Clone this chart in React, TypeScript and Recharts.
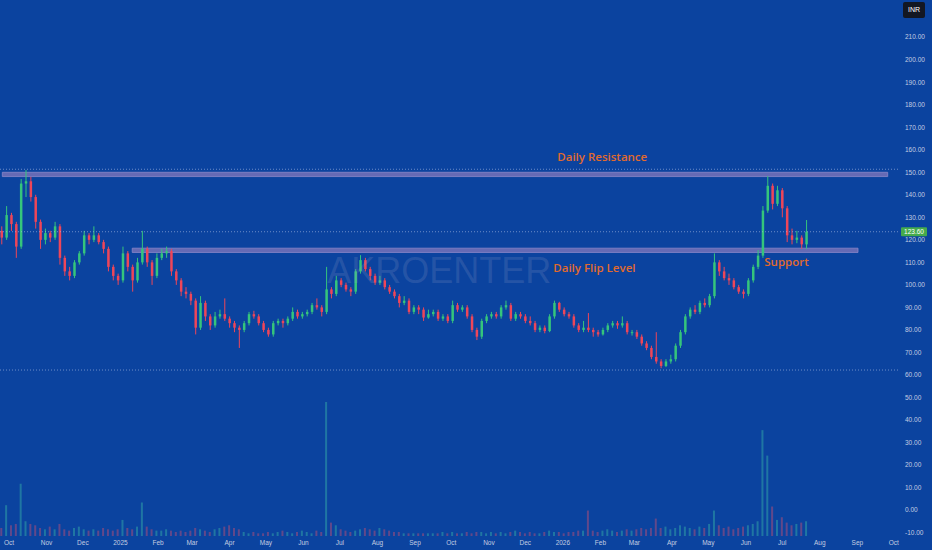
import React from 'react';
import { ComposedChart, Bar, XAxis, YAxis, ReferenceArea, ReferenceLine, ReferenceDot } from 'recharts';

// ---- candle data (one candle per 4 calendar days, day 0 = 1 Oct 2024) ----
const FIRST_DAY = -6;
const STEP_DAYS = 4;

const opens = [
  124, 121, 131, 127, 117, 145, 146, 139, 128, 120,
  123, 121, 126, 112, 106, 104, 110, 114, 122, 120,
  122, 119, 116, 108, 104, 102, 114, 108, 102, 110,
  116, 110, 104, 112, 114, 115, 106, 102, 97, 96,
  93, 81, 92, 86, 82, 86, 87, 85, 83, 81,
  80, 83, 87, 86, 83, 80, 78, 83, 84, 83,
  85, 88, 86, 87, 88, 91, 90, 88, 98, 96,
  102, 100, 98, 97, 106, 111, 107, 104, 101, 102,
  99, 97, 95, 92, 93, 88, 90, 89, 85.5, 87,
  88, 85, 86, 84, 91, 89, 90, 86, 80, 77,
  84, 86, 87, 86, 90, 91, 85, 87, 86, 84,
  83, 80, 81, 79.5, 86, 92, 89, 87, 86, 82,
  80, 81, 80, 79, 78, 80, 82, 83, 82, 83,
  79, 79, 77, 74, 72, 68, 66, 64, 66, 67,
  73, 79, 86, 89, 88, 92, 91, 95, 110, 106,
  103, 102, 99, 97, 96, 102, 108, 113, 133, 144,
  136, 142, 134, 122, 120, 121, 118,
];
const highs = [
  126, 135, 132, 128, 147, 151, 148, 140, 129, 125,
  124, 128, 127, 113, 108, 111, 115, 124, 123, 126,
  123, 120, 117, 109, 105, 117, 115, 109, 112, 124,
  117, 111, 114, 116, 117, 116, 107, 103, 99, 97,
  94, 95, 93, 87, 88, 89, 94, 86, 84, 82,
  84, 88, 88.5, 87, 84, 81, 84, 85, 85, 86,
  90, 89, 88, 89, 92, 94, 91, 108, 99, 104,
  103, 101, 99, 107, 113.2, 112, 108, 105, 104, 103,
  100, 98, 96, 95, 94, 91, 91, 90, 89, 89,
  89, 87, 87, 93, 92, 91, 91, 87, 81, 85,
  87, 88, 88, 91, 93, 92, 88, 88, 87, 86,
  84, 82, 82, 87, 93, 92.5, 90, 88, 87, 83,
  84, 87.5, 81, 80, 81, 83, 84, 84, 86, 84,
  80, 80, 78, 75, 73, 79, 67, 67, 69, 74,
  80, 87, 90, 91, 93, 94, 96, 114, 111, 108,
  105, 103, 100, 98, 103, 109, 115.5, 135, 148.3, 145,
  144, 143, 135, 125, 124, 122, 128.8,
];
const lows = [
  118, 120, 124, 112, 116, 139, 137, 125, 116, 118,
  119, 120, 109, 104, 102, 103, 109, 113, 118, 119,
  118, 114, 106, 102, 100, 101, 106, 97, 101, 109,
  108, 100, 103, 111, 112, 104, 100, 95, 94, 91,
  78, 80, 84, 80, 81, 85, 84, 81, 79, 72,
  79, 82, 85, 82, 79, 77, 77, 82, 81, 82,
  84, 85, 85, 86, 87, 89, 86, 87, 94, 95,
  99, 97, 95, 96, 105, 106, 102, 100, 100, 98,
  96, 94, 90, 91, 87, 87, 87, 84, 85, 86,
  84, 84, 83, 83, 88, 88, 85, 79, 75.5, 76,
  83, 85, 85, 85, 89, 84, 84, 85, 83, 82,
  79, 79, 78.5, 79, 85, 88, 86, 85, 81, 79,
  79, 79, 77, 77, 77.5, 79, 81, 80.5, 81, 78,
  77.5, 76, 73, 71, 67, 65, 63, 63.5, 65, 66,
  72, 78, 85, 87, 87, 90, 90, 94, 104, 102,
  100, 98, 96, 94, 95, 101, 107, 112, 132, 133.5,
  135, 130, 119, 118, 118.5, 116, 116,
];
const closes = [
  121, 131, 127, 117, 145, 146, 139, 128, 120, 123,
  121, 126, 112, 106, 104, 110, 114, 122, 120, 122,
  119, 116, 108, 104, 102, 114, 108, 102, 110, 116,
  110, 104, 112, 114, 115, 106, 102, 97, 96, 93,
  81, 92, 86, 82, 86, 87, 85, 83, 81, 80,
  83, 87, 86, 83, 80, 78, 83, 84, 83, 85,
  88, 86, 87, 88, 91, 90, 88, 98, 96, 102,
  100, 98, 97, 106, 111, 107, 104, 101, 102, 99,
  97, 95, 92, 93, 88, 90, 89, 85.5, 87, 88,
  85, 86, 84, 91, 89, 90, 86, 80, 77, 84,
  86, 87, 86, 90, 91, 85, 87, 86, 84, 83,
  80, 81, 79.5, 86, 92, 89, 87, 86, 82, 80,
  81, 80, 79, 78, 80, 82, 83, 82, 83, 79,
  79, 77, 74, 72, 68, 66, 64, 66, 67, 73,
  79, 86, 89, 88, 92, 91, 95, 110, 106, 103,
  102, 99, 97, 96, 102, 108, 113, 133, 144, 136,
  142, 134, 122, 120, 121, 118, 123.6,
];
const volumes = [
  6, 23, 8, 9, 39, 11, 9, 8, 6, 5, 7, 5,
  9, 5, 4, 6, 7, 5, 4, 5, 4, 6, 5, 4, 5,
  12, 6, 5, 7, 25, 7, 5, 4, 4, 5, 4, 3, 4, 3, 4, 6,
  5, 4, 3, 5, 6, 7, 8, 6, 5, 3, 2, 3, 2, 2, 3, 2, 3, 4, 3, 2,
  3, 4, 3, 2, 4, 3,
  100,
  10, 8, 5, 4, 3, 4, 5, 6, 5, 4, 6, 5, 4,
  3, 3, 2, 2, 2, 2, 2, 2, 2, 2, 3, 2, 3, 2, 2, 3, 2, 3, 3, 2,
  3, 2, 3, 2, 3, 4, 3, 2, 3, 2, 2, 3, 4, 3, 3, 2, 3, 3, 4, 4,
  19,
  4, 3, 4, 5, 4, 3, 4, 5, 4, 5, 6, 5, 6,
  13,
  6, 7, 5, 6, 8, 7, 6, 5, 7, 6, 9,
  19,
  8, 6, 7, 5, 6, 7, 8, 9, 11,
  79, 60, 22, 12, 14, 10, 8, 9, 10, 11,
];

// ---- axes ----
const monthDays = [0, 31, 61, 92, 123, 151, 182, 212, 243, 273, 304, 335, 365, 396, 426, 457, 488, 516, 547, 577, 608, 638, 669, 700, 730];
const monthLabels = ['Oct', 'Nov', 'Dec', '2025', 'Feb', 'Mar', 'Apr', 'May', 'Jun', 'Jul', 'Aug', 'Sep', 'Oct', 'Nov', 'Dec', '2026', 'Feb', 'Mar', 'Apr', 'May', 'Jun', 'Jul', 'Aug', 'Sep', 'Oct'];
const priceTicks = [-10, 0, 10, 20, 30, 40, 50, 60, 70, 80, 90, 100, 110, 120, 130, 140, 150, 160, 170, 180, 190, 200, 210];

// ---- drawn levels & notes ----
const resistanceBand = { from: -5.5, to: 725, low: 148.1, high: 150.0 };
const flipBand = { from: 101.7, to: 700.5, low: 114.4, high: 116.3 };
const dottedLevels = [151.35, 62.2];
const lastPrice = 123.6;
const notes = [
  { text: 'Daily Resistance', day: 489.5, price: 156.7 },
  { text: 'Daily Flip Level', day: 483, price: 107.6 },
  { text: 'Support', day: 641.5, price: 110.3 },
];
const watermark = { text: 'AKROENTER', day: 355, price: 106.6 };

const BG = '#0b439f';
const UP = '#35c57c';
const DOWN = '#ee4659';
const VOL_UP = 'rgba(60,190,170,0.42)';
const VOL_DOWN = 'rgba(220,80,110,0.42)';
const TICK = '#c3cde2';
const NOTE = '#e26a2c';

const data = closes.map((c, i) => ({
  day: FIRST_DAY + i * STEP_DAYS,
  open: opens[i],
  high: highs[i],
  low: lows[i],
  close: c,
  range: [lows[i], highs[i]],
  vol: volumes[i],
}));

const CandleShape = (props: any) => {
  const { x, y, width, height, payload } = props;
  if (x == null || y == null || !payload) return null;
  const { open, close, high, low } = payload;
  const cx = x + width / 2;
  const h = Math.abs(height);
  const top = Math.min(y, y + height);
  const per = high - low > 0 ? h / (high - low) : 0;
  const yOf = (v: number) => top + (high - v) * per;
  const color = close >= open ? UP : DOWN;
  const bt = yOf(Math.max(open, close));
  const bb = yOf(Math.min(open, close));
  return (
    <g>
      <line x1={cx} x2={cx} y1={top} y2={top + h} stroke={color} strokeWidth={1} />
      <rect x={cx - 1.25} y={bt} width={2.5} height={Math.max(1, bb - bt)} fill={color} />
    </g>
  );
};

const VolumeShape = (props: any) => {
  const { x, y, width, height, payload } = props;
  if (x == null || y == null || !payload) return null;
  const cx = x + width / 2;
  const up = payload.close >= payload.open;
  return <rect x={cx - 1} y={Math.min(y, y + height)} width={2} height={Math.abs(height)} fill={up ? VOL_UP : VOL_DOWN} />;
};

const PriceTag = (props: any) => {
  const vb = props.viewBox || {};
  const x = (vb.x || 0) + (vb.width || 0) + 3;
  const y = vb.y || 0;
  return (
    <g>
      <rect x={x} y={y - 4.5} width={26} height={9} rx={1} fill="#45ab4c" />
      <text x={x + 13} y={y + 2.3} textAnchor="middle" fontSize={6.5} fill="#ffffff">
        {lastPrice.toFixed(2)}
      </text>
    </g>
  );
};

export default function App() {
  return (
    <div
      style={{
        position: 'fixed',
        left: 0,
        top: 0,
        width: 932,
        height: 550,
        background: BG,
        fontFamily: "'Liberation Sans', Arial, sans-serif",
        overflow: 'hidden',
      }}
    >
      <ComposedChart width={932} height={550} data={data} margin={{ top: 0, right: 0, bottom: 0, left: 0 }}>
        <XAxis
          dataKey="day"
          type="number"
          domain={[-7.4, 733.5]}
          allowDataOverflow
          ticks={monthDays}
          interval={0}
          tickFormatter={(v: number) => monthLabels[monthDays.indexOf(v)] ?? ''}
          axisLine={false}
          tickLine={false}
          tickSize={0}
          tickMargin={4}
          height={14}
          tick={{ fill: TICK, fontSize: 6.5 }}
        />
        <XAxis xAxisId="vx" dataKey="day" type="number" domain={[-7.4, 733.5]} allowDataOverflow hide />
        <YAxis
          orientation="right"
          domain={[-11.5, 226.5]}
          allowDataOverflow
          ticks={priceTicks}
          interval={0}
          tickFormatter={(v: number) => v.toFixed(2)}
          width={34}
          axisLine={false}
          tickLine={false}
          tickSize={0}
          tickMargin={7}
          tick={{ fill: TICK, fontSize: 6.5 }}
        />
        <YAxis yAxisId="vol" domain={[0, 400]} allowDataOverflow hide />

        <ReferenceDot
          x={watermark.day}
          y={watermark.price}
          r={0.5}
          fill="none"
          stroke="none"
          label={{ value: watermark.text, position: 'center', fill: 'rgba(150,160,200,0.2)', fontSize: 36 }}
        />

        <Bar xAxisId="vx" yAxisId="vol" dataKey="vol" barSize={2} shape={VolumeShape} isAnimationActive={false} />
        <Bar dataKey="range" barSize={3} shape={CandleShape} isAnimationActive={false} />

        {dottedLevels.map((lv) => (
          <ReferenceLine key={lv} y={lv} stroke="rgba(175,190,230,0.6)" strokeDasharray="1 2" strokeWidth={1} />
        ))}
        <ReferenceLine y={lastPrice} stroke="rgba(175,190,230,0.6)" strokeDasharray="1 2" strokeWidth={1} label={<PriceTag />} />

        <ReferenceArea
          x1={resistanceBand.from}
          x2={resistanceBand.to}
          y1={resistanceBand.low}
          y2={resistanceBand.high}
          fill="#7571b8"
          fillOpacity={0.85}
          stroke="#8a86c8"
          strokeWidth={0.8}
        />
        <ReferenceArea
          x1={flipBand.from}
          x2={flipBand.to}
          y1={flipBand.low}
          y2={flipBand.high}
          fill="#7571b8"
          fillOpacity={0.85}
          stroke="#8a86c8"
          strokeWidth={0.8}
        />

        {notes.map((n) => (
          <ReferenceDot
            key={n.text}
            x={n.day}
            y={n.price}
            r={0.5}
            fill="none"
            stroke="none"
            label={{ value: n.text, position: 'center', fill: NOTE, fontSize: 11.5, fontWeight: 600, fontFamily: "'Open Sans', sans-serif" }}
          />
        ))}
      </ComposedChart>
      <div
        style={{
          position: 'absolute',
          left: 903,
          top: 2,
          width: 22,
          height: 16,
          background: '#131722',
          color: '#ffffff',
          fontSize: 7,
          lineHeight: '16px',
          textAlign: 'center',
          borderRadius: 2,
        }}
      >
        INR
      </div>
    </div>
  );
}
